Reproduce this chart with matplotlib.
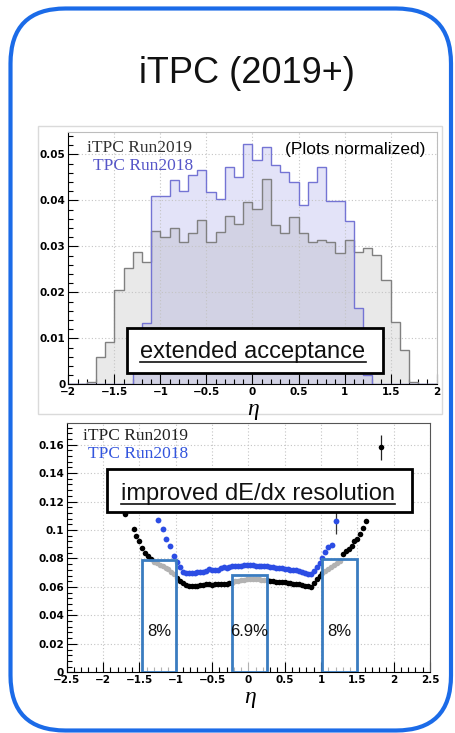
import numpy as np
import matplotlib
matplotlib.use("Agg")
import matplotlib.pyplot as plt
from matplotlib.patches import FancyBboxPatch, Rectangle
from matplotlib.lines import Line2D
from matplotlib.ticker import MultipleLocator, FuncFormatter
from matplotlib import font_manager

W, H = 455, 733

# top panel: normalized eta distributions, bins of 0.1 from -2 to 2
hist_edges = np.round(np.arange(-2.0, 2.0001, 0.1), 2)
itpc_2019_hist = [0, 0, 0.0006, 0.006, 0.0092, 0.0205, 0.0252, 0.0288, 0.0266, 0.0333,
                  0.032, 0.0339, 0.031, 0.0328, 0.0358, 0.0309, 0.0332, 0.0366, 0.0349, 0.0396,
                  0.0382, 0.0446, 0.0347, 0.033, 0.0363, 0.0329, 0.031, 0.0313, 0.0309, 0.0286,
                  0.0314, 0.0288, 0.0297, 0.0281, 0.0227, 0.0135, 0.0074, 0.0006, 0, 0]
tpc_2018_hist = [0, 0, 0, 0, 0, 0, 0, 0.0025, 0.0134, 0.041,
                 0.041, 0.0444, 0.042, 0.0455, 0.0467, 0.0419, 0.0403, 0.0472, 0.0451, 0.0522,
                 0.0488, 0.0517, 0.0477, 0.0462, 0.044, 0.039, 0.044, 0.0473, 0.0399, 0.0399,
                 0.0355, 0.0165, 0.002, 0, 0, 0, 0, 0, 0, 0]

# bottom panel: dE/dx resolution vs eta
eta_2019 = [-1.70, -1.58, -1.54, -1.50, -1.46, -1.42, -1.38, -1.34, -1.30, -1.26, -1.22, -1.18,
            -1.14, -1.10, -1.06, -1.02, -0.98, -0.94, -0.90, -0.86, -0.82, -0.78, -0.74, -0.70,
            -0.66, -0.62, -0.58, -0.54, -0.50, -0.46, -0.42, -0.38, -0.34, -0.30, -0.26, -0.22,
            -0.18, -0.14, -0.10, -0.06, -0.02, 0.02, 0.06, 0.10, 0.14, 0.18, 0.22, 0.26, 0.30,
            0.34, 0.38, 0.42, 0.46, 0.50, 0.54, 0.58, 0.62, 0.66, 0.70, 0.74, 0.78, 0.82, 0.86,
            0.90, 0.94, 0.98, 1.02, 1.06, 1.10, 1.14, 1.18, 1.22, 1.26, 1.30, 1.34, 1.38, 1.42,
            1.46, 1.50, 1.54, 1.58, 1.62]
res_2019 = [0.111, 0.101, 0.096, 0.092, 0.0875, 0.084, 0.0815, 0.0795, 0.0775, 0.0765, 0.0755, 0.0745,
            0.0735, 0.0725, 0.0705, 0.069, 0.0665, 0.064, 0.0625, 0.0612, 0.0605, 0.0604, 0.0605, 0.061,
            0.0612, 0.0615, 0.0618, 0.062, 0.0617, 0.062, 0.0623, 0.062, 0.0624, 0.0622, 0.0626, 0.0628,
            0.064, 0.0645, 0.065, 0.0652, 0.0655, 0.0656, 0.0655, 0.0655, 0.0653, 0.065, 0.0648, 0.0646, 0.0645,
            0.0642, 0.0638, 0.0636, 0.0632, 0.0632, 0.063, 0.0627, 0.0624, 0.0622, 0.0618, 0.0612, 0.0605, 0.061, 0.0603,
            0.0625, 0.0655, 0.068, 0.0695, 0.071, 0.0725, 0.074, 0.0755, 0.0765, 0.078, 0.083, 0.085, 0.0865, 0.089,
            0.092, 0.0938, 0.0975, 0.1015, 0.106]
eta_2019_out = [1.82]
res_2019_out = [0.158]
err_2019_out = [0.009]

eta_2018 = [-1.24, -1.18, -1.13, -1.08, -1.03, -0.98, -0.94, -0.90, -0.86, -0.82, -0.78, -0.74,
            -0.70, -0.66, -0.62, -0.58, -0.54, -0.50, -0.46, -0.42, -0.38, -0.34, -0.30, -0.26,
            -0.22, -0.18, -0.14, -0.10, -0.06, -0.02, 0.02, 0.06, 0.10, 0.14, 0.18, 0.22, 0.26,
            0.30, 0.34, 0.38, 0.42, 0.46, 0.50, 0.54, 0.58, 0.62, 0.66, 0.70, 0.74, 0.78, 0.82,
            0.86, 0.90, 0.94, 0.98, 1.02, 1.06, 1.10, 1.15]
res_2018 = [0.107, 0.1006, 0.0936, 0.0889, 0.0819, 0.0777, 0.074, 0.0705, 0.0695, 0.0697, 0.0695, 0.070,
            0.0703, 0.0705, 0.0708, 0.0715, 0.0725, 0.072, 0.0718, 0.0722, 0.073, 0.0737, 0.0735, 0.0742,
            0.0744, 0.0746, 0.0748, 0.075, 0.0755, 0.0757, 0.0755, 0.0756, 0.075, 0.0748, 0.0748, 0.0745, 0.0744,
            0.074, 0.0738, 0.0735, 0.0732, 0.0733, 0.0728, 0.0725, 0.0722, 0.072, 0.0718, 0.0712, 0.0705, 0.0698, 0.069,
            0.0688, 0.0712, 0.074, 0.077, 0.0805, 0.0845, 0.088, 0.0896]
eta_2018_out = [1.20]
res_2018_out = [0.106]
err_2018_out = [0.009]

# eta ranges quoted with their resolution
region_lo = [-1.47, -0.23, 1.02]
region_hi = [-0.99, 0.25, 1.49]
region_top = [0.079, 0.0685, 0.0798]
region_labels = ["8%", "6.9%", "8%"]

plt.rcParams['font.family'] = 'DejaVu Sans'
plt.rcParams['font.weight'] = 'bold'
plt.rcParams['axes.unicode_minus'] = True

narrow = "Liberation Sans Narrow"
try:
    font_manager.findfont(font_manager.FontProperties(family=narrow), fallback_to_default=False)
    title_font, title_size = narrow, 31
except ValueError:
    title_font, title_size = "Liberation Sans", 26

fig = plt.figure(figsize=(W / 100, H / 100), dpi=100)

# background layer in pixel coordinates (y downwards)
bg = fig.add_axes([0, 0, 1, 1], zorder=-1)
bg.set_xlim(0, W)
bg.set_ylim(H, 0)
bg.axis('off')
bg.add_patch(FancyBboxPatch((10.5, 8.5), 440.5, 722, boxstyle="round,pad=0,rounding_size=55",
                            fc='white', ec='#1b6be8', lw=3))
bg.add_patch(Rectangle((38, 126), 404, 288, fill=False, ec='#dadada', lw=1))
bg.text(247, 83, "iTPC (2019+)", ha='center', va='baseline', fontsize=title_size,
        family=title_font, weight='normal', color='#111111')


def fmt(v, pos):
    s = f"{v:.3f}".rstrip('0').rstrip('.')
    if s in ("-0", ""):
        s = "0"
    return s.replace('-', '\u2212')


def style_axis(ax, xmaj, xmin, ymaj, ymin, frame_col):
    ax.xaxis.set_major_locator(MultipleLocator(xmaj))
    ax.xaxis.set_minor_locator(MultipleLocator(xmin))
    ax.yaxis.set_major_locator(MultipleLocator(ymaj))
    ax.yaxis.set_minor_locator(MultipleLocator(ymin))
    ax.xaxis.set_major_formatter(FuncFormatter(fmt))
    ax.yaxis.set_major_formatter(FuncFormatter(fmt))
    ax.tick_params(which='both', direction='in', top=False, right=False, width=0.8,
                   labelsize=7.5, pad=2)
    ax.tick_params(which='major', length=7)
    ax.tick_params(which='minor', length=3.5)
    ax.grid(True, which='major', ls=(0, (1, 2)), color='#c4c4c4', lw=0.8)
    for side in ('top', 'right'):
        ax.spines[side].set_color(frame_col)
    for side in ('left', 'bottom'):
        ax.spines[side].set_color('black')


# ---- top: acceptance
ax1 = fig.add_axes([68.3 / W, 1 - 384.3 / H, (436.7 - 68.3) / W, (384.3 - 132.3) / H])
overlap = np.minimum(itpc_2019_hist, tpc_2018_hist)
ax1.stairs(itpc_2019_hist, hist_edges, fill=True, color='#e9e9e9', zorder=1)
ax1.stairs(tpc_2018_hist, hist_edges, fill=True, color='#e3e3f8', zorder=1.1)
ax1.stairs(overlap, hist_edges, fill=True, color='#d2d2e4', zorder=1.2)
ax1.stairs(itpc_2019_hist, hist_edges, color='#808080', lw=1, zorder=2)
ax1.stairs(tpc_2018_hist, hist_edges, color='#7474d4', lw=1, zorder=2.1)
ax1.set_xlim(-2, 2)
ax1.set_ylim(0, 0.0548)
style_axis(ax1, 0.5, 0.1, 0.01, 0.002, '#bdbdbd')

# ---- bottom: resolution
ax2 = fig.add_axes([66.7 / W, 1 - 672.3 / H, (430 - 66.7) / W, (672.3 - 423.3) / H])
ax2.plot(eta_2019, res_2019, 'o', ms=4, color='black', mec='none', zorder=3)
ax2.plot(eta_2018, res_2018, 'o', ms=4.2, color='#2c4de4', mec='none', zorder=3)
ax2.errorbar(eta_2019_out, res_2019_out, yerr=err_2019_out, fmt='o', ms=4, color='black',
             mec='none', ecolor='#222222', elinewidth=0.9, capsize=0, zorder=3)
ax2.errorbar(eta_2018_out, res_2018_out, yerr=err_2018_out, fmt='o', ms=4.2, color='#2c4de4',
             mec='none', ecolor='#333333', elinewidth=0.9, capsize=0, zorder=3)
for lo, hi, top, lab in zip(region_lo, region_hi, region_top, region_labels):
    ax2.add_patch(Rectangle((lo, 0), hi - lo, top, fc=(1, 1, 1, 0.7), ec='#3a7cc0', lw=2, zorder=4))
    ax2.text((lo + hi) / 2, 0.029, lab, ha='center', va='center', fontsize=12,
             family='Liberation Sans', weight='normal', color='#111111', zorder=5)
ax2.set_xlim(-2.5, 2.5)
ax2.set_ylim(0, 0.175)
style_axis(ax2, 0.5, 0.1, 0.02, 0.004, '#555555')

# ---- overlaid labels (pixel positions)
tr = bg.transData
serif = 'Liberation Serif'
fig.text(87, 152, "iTPC Run2019", transform=tr, fontsize=12.5, family=serif, weight='normal',
         color='#333333', zorder=6)
fig.text(93, 170, "TPC Run2018", transform=tr, fontsize=12.5, family=serif, weight='normal',
         color='#5656c8', zorder=6)
fig.text(285, 154, "(Plots normalized)", transform=tr, fontsize=12.5, family='Liberation Sans',
         weight='normal', color='black', zorder=6)
fig.text(83, 440, "iTPC Run2019", transform=tr, fontsize=12.5, family=serif, weight='normal',
         color='#222222', zorder=6)
fig.text(88, 458, "TPC Run2018", transform=tr, fontsize=12.5, family=serif, weight='normal',
         color='#3355dd', zorder=6)
fig.text(253, 409, "\u03b7", transform=tr, fontsize=17, family=serif, style='italic',
         weight='normal', ha='center', va='center', zorder=6)
fig.text(250, 698, "\u03b7", transform=tr, fontsize=17, family=serif, style='italic',
         weight='normal', ha='center', va='center', zorder=6)

boxed = []
for (x0, y0, x1, y1), (tx, ty), s in [((127, 328, 383, 373), (253, 358), "extended acceptance"),
                                      ((107, 469, 412, 512), (258, 500), "improved dE/dx resolution")]:
    fig.add_artist(Rectangle((x0, y0), x1 - x0, y1 - y0, transform=tr, fc='white', ec='black',
                             lw=2, zorder=6))
    t = fig.text(tx, ty, s, transform=tr, fontsize=17, family='Liberation Sans', weight='normal',
                 ha='center', va='baseline', color='#111111', zorder=7)
    boxed.append((t, ty))

fig.canvas.draw()
inv = tr.inverted()
for t, ty in boxed:
    bb = t.get_window_extent()
    (xa, _), (xb, _) = inv.transform([[bb.x0, bb.y0], [bb.x1, bb.y1]])
    fig.add_artist(Line2D([xa, xb], [ty + 3.5, ty + 3.5], transform=tr, color='#111111', lw=1.2,
                          zorder=7))

fig.savefig("out.png", dpi=100)
